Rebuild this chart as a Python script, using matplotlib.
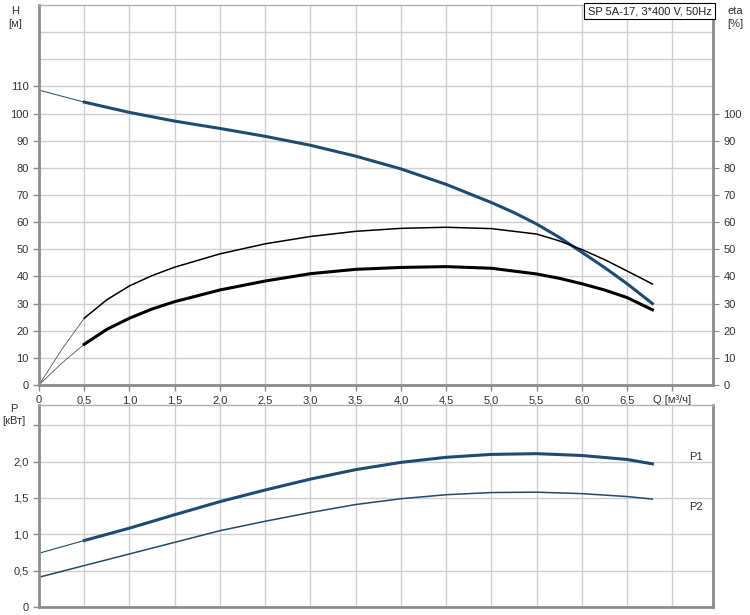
# Pump curves SP 5A-17: head, efficiency and power versus flow
import numpy as np
import matplotlib
matplotlib.use('Agg')
import matplotlib.pyplot as plt

plt.rcParams['font.family'] = ['Liberation Sans', 'DejaVu Sans']

# Head curve, flow in m3/h
q_h = [0.0, 0.5, 1.0, 1.5, 2.0, 2.5, 3.0, 3.5, 4.0, 4.5, 5.0, 5.25, 5.5, 5.75,
       6.0, 6.25, 6.5, 6.78]
head = [108.6, 104.2, 100.4, 97.2, 94.5, 91.6, 88.3, 84.3, 79.6, 73.9, 67.2, 63.5,
        59.3, 54.4, 48.9, 43.3, 37.3, 30.0]

# efficiency curves
q_eta = [0.0, 0.25, 0.5, 0.75, 1.0, 1.25, 1.5, 2.0, 2.5, 3.0, 3.5, 4.0, 4.5, 5.0,
         5.5, 5.75, 6.0, 6.25, 6.5, 6.78]
eta_pump = [0.0, 13.0, 24.6, 31.4, 36.5, 40.3, 43.4, 48.3, 52.0, 54.7, 56.6, 57.7,
            58.1, 57.6, 55.6, 53.1, 49.9, 46.2, 42.0, 37.2]
eta_total = [0.0, 8.0, 15.0, 20.5, 24.6, 28.0, 30.7, 35.0, 38.3, 41.0, 42.6, 43.3,
             43.6, 43.0, 40.9, 39.3, 37.3, 35.0, 32.2, 27.7]

# power curves [kW]
q_p = [0.0, 0.5, 1.0, 1.5, 2.0, 2.5, 3.0, 3.5, 4.0, 4.5, 5.0, 5.5, 6.0, 6.5, 6.78]
p1 = [0.74, 0.915, 1.085, 1.27, 1.45, 1.61, 1.76, 1.89, 1.99, 2.06, 2.10, 2.11, 2.085, 2.03, 1.97]
p2 = [0.41, 0.57, 0.73, 0.89, 1.05, 1.18, 1.30, 1.41, 1.49, 1.545, 1.575, 1.58, 1.56, 1.52, 1.485]

q_ticks = [0, 0.5, 1.0, 1.5, 2.0, 2.5, 3.0, 3.5, 4.0, 4.5, 5.0, 5.5, 6.0, 6.5, 7.0]
q_labels = ['0', '0,5', '1,0', '1,5', '2,0', '2,5', '3,0', '3,5', '4,0', '4,5',
            '5,0', '5,5', '6,0', '6,5', 'Q [м³/ч]']
h_ticks = list(range(0, 120, 10))
eta_ticks = list(range(0, 110, 10))
p_ticks = [0, 0.5, 1.0, 1.5, 2.0, 2.5]
p_labels = ['0', '0,5', '1,0', '1,5', '2,0', '']

blue = '#1f4a72'
grid_col = '#cfcfcf'
spine_col = '#8c8c8c'
text_col = '#333333'

fig = plt.figure(figsize=(7.5, 6.15), dpi=100)
ax = fig.add_axes([0.052, 0.374, 0.8987, 0.618])
ax2 = fig.add_axes([0.052, 0.013, 0.8987, 0.3285])


def style(a):
    a.set_xlim(0, 7.45)
    a.grid(True, which='both', color=grid_col, lw=1)
    a.set_axisbelow(True)
    for s in ['left', 'bottom', 'right']:
        a.spines[s].set_color(spine_col)
        a.spines[s].set_linewidth(2)
    a.spines['top'].set_color('#b0b0b0')
    a.spines['top'].set_linewidth(1)
    a.tick_params(direction='out', length=4, width=1, color=spine_col,
                  labelsize=8, labelcolor=text_col)


# --- top: head and efficiency ---
style(ax)
ax.set_ylim(0, 140)
ax.set_yticks(h_ticks)
ax.set_yticks([120, 130], minor=True)
ax.tick_params(which='minor', length=0)

ax.plot(q_h[:2], head[:2], color=blue, lw=0.7)
ax.plot(q_h[1:], head[1:], color=blue, lw=2.2)
ax.plot(q_eta[:3], eta_pump[:3], color='#555555', lw=0.6)
ax.plot(q_eta[2:], eta_pump[2:], color='black', lw=1.1)
ax.plot(q_eta[:3], eta_total[:3], color='#555555', lw=0.6)
ax.plot(q_eta[2:], eta_total[2:], color='black', lw=2.2)

axr = ax.twinx()
axr.set_ylim(0, 140)
axr.set_yticks(eta_ticks)
axr.tick_params(direction='out', length=4, color=spine_col, labelsize=8,
                labelcolor=text_col)
for s in axr.spines.values():
    s.set_visible(False)

# x ticks after twinx so the labels stick
ax.set_xticks(q_ticks)
ax.set_xticklabels(q_labels)
ax.set_xlim(0, 7.45)

ax.text(0.998, 0.997, 'SP 5A-17, 3*400 V, 50Hz', transform=ax.transAxes,
        ha='right', va='top', fontsize=8, color='#222222', zorder=5,
        bbox=dict(boxstyle='square,pad=0.3', fc='white', ec='black', lw=0.8))

# --- bottom: power ---
style(ax2)
ax2.set_xticks(q_ticks)
ax2.set_xticklabels([])
ax2.tick_params(axis='x', length=0)
ax2.set_ylim(0, 2.78)
ax2.set_yticks(p_ticks)
ax2.set_yticklabels(p_labels)

ax2.plot(q_p[:2], p1[:2], color=blue, lw=0.8)
ax2.plot(q_p[1:], p1[1:], color=blue, lw=2.2)
ax2.plot(q_p, p2, color=blue, lw=1.1)
ax2.text(7.26, 2.07, 'P1', fontsize=8, color=text_col, ha='center', va='center')
ax2.text(7.26, 1.38, 'P2', fontsize=8, color=text_col, ha='center', va='center')

# axis titles
fig.text(0.02, 0.99, 'H\n[м]', ha='center', va='top', fontsize=8,
         color=text_col, linespacing=1.3)
fig.text(0.981, 0.99, 'eta\n[%]', ha='center', va='top', fontsize=8,
         color=text_col, linespacing=1.3)
fig.text(0.019, 0.343, 'P\n[кВт]', ha='center', va='top', fontsize=8,
         color=text_col, linespacing=1.3)

fig.savefig('out.png', dpi=100)
